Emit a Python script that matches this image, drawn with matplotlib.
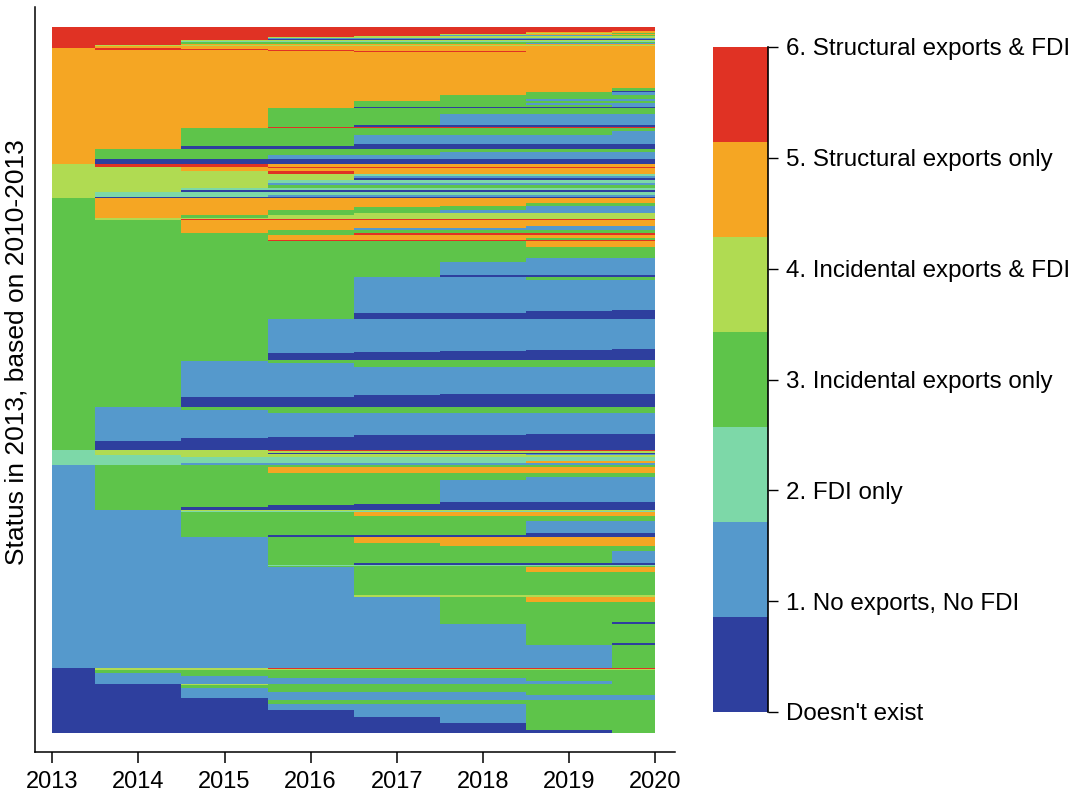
import numpy as np
import matplotlib.pyplot as plt
from matplotlib.colors import ListedColormap, BoundaryNorm
from matplotlib.cm import ScalarMappable
from matplotlib.ticker import NullLocator

plt.rcParams['font.family'] = ['Liberation Sans', 'DejaVu Sans']

years = [2013, 2014, 2015, 2016, 2017, 2018, 2019, 2020]
state_labels = ["Doesn't exist", "1. No exports, No FDI", "2. FDI only",
                "3. Incidental exports only", "4. Incidental exports & FDI",
                "5. Structural exports only", "6. Structural exports & FDI"]
state_colors = ['#2e3f9e', '#5599cc', '#7dd8a8', '#5ec44a', '#b0db52', '#f5a623', '#e03224']

# Trajectories grouped by status in 2013: one digit per year (2013-2020), plus number of firms
seq_state6 = ["66666666", "66666665", "66666655", "66666643", "66666455", "66666113", "66664444",
              "66644444", "66611111", "66600000", "66444444", "66222222", "66333333", "66333311",
              "66555555", "64444444", "65555555"]
n_state6 = [4, 1, 1, 1, 1, 1, 1, 1, 1, 1, 1, 1, 1, 1, 1, 1, 2]

seq_state5 = ["56555555", "56655555", "55565555", "55556655", "55555555", "55555553", "55555550",
              "55555531", "55555333", "55555311", "55553333", "55553311", "55553331", "55550000",
              "55533333", "55533111", "55530000", "55566666", "55333333", "55333331", "55331111",
              "55330000", "55000000", "53333333", "53333111", "53311111", "50000000"]
n_state5 = [1, 1, 1, 1, 36, 3, 1,
            3, 4, 2, 2, 2, 2, 1,
            6, 11, 2, 1, 3, 4, 9,
            2, 3, 3, 3, 4, 5]

seq_state4 = ["46655555", "44566666", "44555555", "44465555", "44442222", "44441111", "44440000",
              "44422222", "44411111", "44433333", "44222222", "44000000", "42222222", "42211111",
              "40000000"]
n_state4 = [3, 1, 3, 3, 2, 2, 2, 3, 2, 3, 2, 2, 3, 2, 1]

seq_state3 = ["35555555", "35555533", "35555311", "35553311", "35533111", "35534444", "35344444",
              "34444444", "34666666", "33555555", "33555511", "33551111", "33533333", "33336666",
              "33355555", "33355533", "33366666", "33333355", "33333333", "33333311", "33333111",
              "33333000", "33331133", "33331111", "33331110", "33331100", "33330000", "33311111",
              "33311110", "33311100", "33311000", "33310000", "33300000", "33333333", "33133333",
              "33113333", "33111111", "33111000", "33110000", "33000000", "31333333", "31133333",
              "31111111", "31111100", "31110000", "31100000", "31000000", "30000000"]
n_state3 = [5, 3, 1, 3, 3, 2, 3,
            1, 1, 6, 2, 2, 3, 2,
            3, 2, 1, 6, 11, 4, 13,
            2, 3, 30, 1, 2, 6, 30,
            1, 1, 1, 1, 7, 1, 2,
            4, 27, 1, 2, 10, 3, 3,
            21, 1, 2, 1, 3, 9]

seq_state2 = ["24466666", "24444444", "24400000", "24444411", "22444444", "22222222", "22222255",
              "22111111"]
n_state2 = [1, 2, 1, 1, 2, 4, 2, 2]

seq_state1 = ["13333333", "13355555", "13333333", "13333311", "13333111", "13333000", "13330000",
              "13300000", "13000000", "11444444", "11222222", "11335555", "11333333", "11333311",
              "11333300", "11300000", "11135555", "11133555", "11133333", "11133331", "11130000",
              "11122222", "11133333", "11113355", "11113333", "11114444", "11111355", "11111333",
              "11111330", "11111133", "11111130", "11111113"]
n_state1 = [2, 6, 4, 3, 22, 2, 1,
            2, 3, 1, 1, 4, 5, 12,
            2, 2, 6, 3, 5, 12, 2,
            1, 1, 5, 23, 2, 5, 20,
            2, 19, 2, 23]

seq_state0 = ["04466666", "04444444", "03333333", "01333333", "01133333", "01111133", "01111113",
              "00433333", "00333333", "00133333", "00111133", "00111111", "00011111", "00033333",
              "00011133", "00001133", "00000133", "00000033", "00000003"]
n_state0 = [1, 1, 3, 3, 2, 3, 3,
            1, 3, 4, 3, 3, 2, 4,
            6, 7, 6, 7, 3]

groups = [(seq_state6, n_state6), (seq_state5, n_state5), (seq_state4, n_state4),
          (seq_state3, n_state3), (seq_state2, n_state2), (seq_state1, n_state1),
          (seq_state0, n_state0)]

rows = []
for seqs, counts in groups:
    for s, c in zip(seqs, counts):
        rows.extend([[int(ch) for ch in s]] * c)
grid = np.array(rows)
n_firms = grid.shape[0]

cmap = ListedColormap(state_colors)
norm = BoundaryNorm(np.arange(-0.5, 7.5, 1), cmap.N)

fig = plt.figure(figsize=(10.81, 7.97), dpi=100)
ax = fig.add_axes([35 / 1081, 1 - 752 / 797, 640 / 1081, 745 / 797])

x_edges = [years[0]] + [y + 0.5 for y in years[:-1]] + [years[-1]]
y_edges = np.arange(n_firms + 1)
ax.pcolormesh(x_edges, y_edges, grid, cmap=cmap, norm=norm, shading='flat',
              edgecolors='none', antialiased=False)

ax.set_xlim(2012.80, 2020.23)
pad_top = 0.0283 * n_firms
pad_bot = 0.0269 * n_firms
ax.set_ylim(n_firms + pad_bot, -pad_top)
ax.set_xticks(years)
ax.tick_params(axis='x', direction='out', length=8, width=1.1, labelsize=17, pad=6)
ax.set_yticks([])
for side in ['top', 'right']:
    ax.spines[side].set_visible(False)
for side in ['left', 'bottom']:
    ax.spines[side].set_linewidth(1.1)

fig.text(17 / 1081, 1 - 352 / 797, "Status in 2013, based on 2010-2013", rotation=90,
         ha='center', va='center', fontsize=19)

# legend bar for the seven states
cax = fig.add_axes([713 / 1081, 1 - 712 / 797, 55 / 1081, 665 / 797])
sm = ScalarMappable(norm=norm, cmap=cmap)
cb = fig.colorbar(sm, cax=cax, ticks=np.linspace(-0.5, 6.5, 7))
cb.set_ticklabels(state_labels)
cb.outline.set_visible(False)
cax.yaxis.set_minor_locator(NullLocator())
cax.tick_params(axis='y', direction='out', length=7, width=1, labelsize=17.4, pad=6)
cax.plot([1, 1], [0, 1], transform=cax.transAxes, color='black', lw=1.2, clip_on=False)

fig.savefig('out.png', dpi=100)
